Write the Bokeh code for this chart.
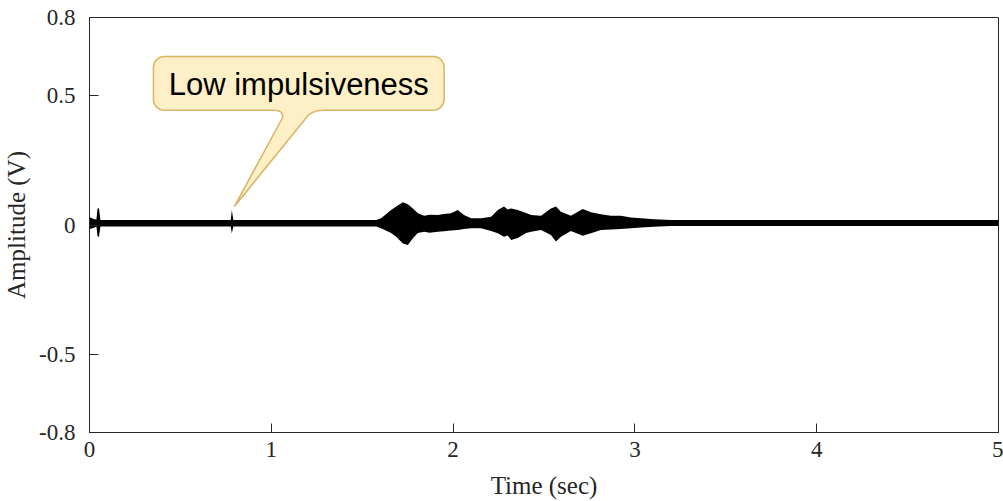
import numpy as np
from bokeh.plotting import figure
from bokeh.models import Range1d, FixedTicker, Label
from bokeh.embed import file_html
from bokeh.resources import INLINE

# ---- data (envelope of the vibration signal) ----
time_s = [0.000, 0.022, 0.038, 0.044, 0.052, 0.060, 0.777, 0.783, 0.791,
          1.577, 1.604, 1.659, 1.687, 1.724, 1.751, 1.779, 1.806, 1.841,
          1.870, 1.916, 1.950, 1.989, 2.026, 2.060, 2.099, 2.154, 2.209, 2.246, 2.280,
          2.300, 2.319, 2.356, 2.401, 2.429, 2.484, 2.538, 2.566, 2.593, 2.648,
          2.713, 2.758, 2.813, 2.868, 2.923, 2.978, 3.033, 3.104, 3.198,
          5.000]
upper_v = [0.031, 0.023, 0.021, 0.062, 0.066, 0.019, 0.019, 0.058, 0.019,
           0.019, 0.026, 0.058, 0.071, 0.088, 0.080, 0.064, 0.045, 0.036,
           0.040, 0.039, 0.042, 0.045, 0.058, 0.039, 0.026, 0.026, 0.032, 0.058, 0.071,
           0.060, 0.064, 0.058, 0.046, 0.039, 0.036, 0.064, 0.071, 0.051, 0.036,
           0.062, 0.049, 0.041, 0.036, 0.036, 0.029, 0.026, 0.022, 0.019,
           0.019]
lower_v = [-0.015, -0.012, -0.006, -0.042, -0.046, -0.006, -0.006, -0.033, -0.006,
           -0.006, -0.013, -0.031, -0.045, -0.071, -0.077, -0.051, -0.031, -0.026,
           -0.030, -0.026, -0.024, -0.021, -0.019, -0.015, -0.013, -0.013, -0.023, -0.032, -0.045,
           -0.040, -0.058, -0.050, -0.031, -0.026, -0.019, -0.039, -0.064, -0.045, -0.023,
           -0.041, -0.032, -0.019, -0.017, -0.015, -0.013, -0.010, -0.007, -0.004,
           -0.004]

x_ticks = [0, 1, 2, 3, 4, 5]
y_ticks = [-0.8, -0.5, 0, 0.5, 0.8]
y_tick_labels = ["-0.8", "-0.5", "0", "0.5", "0.8"]
annotation_text = "Low impulsiveness"

# ---- figure ----
W, H = 1003, 501
ML, MR, MT, MB = 88, 5, 17, 68
X0, X1, Y0, Y1 = 0, 5, -0.8, 0.8
FW, FH = W - ML - MR, H - MT - MB

p = figure(width=W, height=H, output_backend="svg", toolbar_location=None,
           x_range=Range1d(X0, X1), y_range=Range1d(Y0, Y1),
           min_border_left=ML, min_border_right=MR,
           min_border_top=MT, min_border_bottom=MB)
p.background_fill_color = "white"
p.border_fill_color = "white"
p.grid.visible = False
p.outline_line_color = "#262626"
p.outline_line_width = 1

# signal
p.varea(x=time_s, y1=lower_v, y2=upper_v, fill_color="black")

# callout (positions in screen pixels converted to data)
def dx(px):
    return X0 + (px - ML) / FW * (X1 - X0)

def dy(py):
    return Y1 - (py - MT) / FH * (Y1 - Y0)

L_, R_, T_, B_, r = 152, 443, 56, 110, 11
pts = []
def arc(cx, cy, a0, a1, n=8):
    for a in np.linspace(a0, a1, n):
        pts.append((cx + r * np.cos(a), cy + r * np.sin(a)))
def bez(p0, c, p1, n=10):
    for s in np.linspace(0, 1, n):
        pts.append(((1 - s) ** 2 * p0[0] + 2 * (1 - s) * s * c[0] + s ** 2 * p1[0],
                    (1 - s) ** 2 * p0[1] + 2 * (1 - s) * s * c[1] + s ** 2 * p1[1]))
arc(L_ + r, T_ + r, np.pi, 1.5 * np.pi)
arc(R_ - r, T_ + r, 1.5 * np.pi, 2 * np.pi)
arc(R_ - r, B_ - r, 0, 0.5 * np.pi)
bez((322, B_), (309, B_), (303, 120))
pts.append((233, 206.5))
bez((281, 118), (283, B_), (272, B_))
arc(L_ + r, B_ - r, 0.5 * np.pi, np.pi)
xs = [dx(a) for a, b in pts]
ys = [dy(b) for a, b in pts]
p.patch(xs, ys, fill_color="#FDF0C6", line_color="#D9B462", line_width=1.5)

p.add_layout(Label(x=dx((L_ + R_) / 2), y=dy(84), text=annotation_text,
                   text_align="center", text_baseline="middle",
                   text_font="Liberation Sans", text_font_size="31px",
                   text_color="black"))

# axes
for ax in (p.xaxis[0], p.yaxis[0]):
    ax.axis_line_color = "#262626"
    ax.major_tick_line_color = "#262626"
    ax.major_tick_in = 9
    ax.major_tick_out = 0
    ax.minor_tick_line_color = None
    ax.major_label_text_font = "Liberation Serif"
    ax.major_label_text_font_size = "23px"
    ax.major_label_text_color = "#262626"
    ax.axis_label_text_font = "Liberation Serif"
    ax.axis_label_text_font_size = "25px"
    ax.axis_label_text_font_style = "normal"
    ax.axis_label_text_color = "#262626"

p.xaxis[0].ticker = FixedTicker(ticks=x_ticks)
p.yaxis[0].ticker = FixedTicker(ticks=y_ticks)
p.yaxis[0].major_label_overrides = {t: s for t, s in zip(y_ticks, y_tick_labels)}
p.xaxis[0].major_label_standoff = 9
p.yaxis[0].major_label_standoff = 14
p.xaxis[0].axis_label = "Time (sec)"
p.yaxis[0].axis_label = "Amplitude (V)"
p.xaxis[0].axis_label_standoff = 12
p.yaxis[0].axis_label_standoff = 6

open("out.html", "w").write(file_html(p, INLINE))
